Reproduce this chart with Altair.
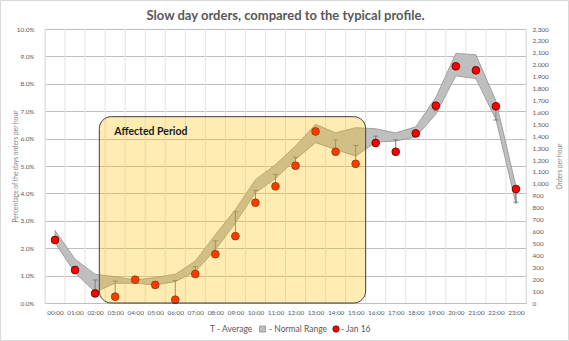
import json
import altair as alt
import pandas as pd

# ---------------- data ----------------
hours = ["00:00", "01:00", "02:00", "03:00", "04:00", "05:00", "06:00", "07:00",
         "08:00", "09:00", "10:00", "11:00", "12:00", "13:00", "14:00", "15:00",
         "16:00", "17:00", "18:00", "19:00", "20:00", "21:00", "22:00", "23:00"]
jan16 = [2.30, 1.20, 0.35, 0.23, 0.85, 0.66, 0.12, 1.06, 1.78, 2.44, 3.66, 4.26,
         5.01, 6.26, 5.52, 5.08, 5.84, 5.52, 6.19, 7.20, 8.64, 8.49, 7.18, 4.16]
average = [2.42, 1.33, 0.84, 0.80, 0.78, 0.78, 0.82, 1.33, 2.27, 3.33, 4.11, 4.69,
           5.32, 6.20, 5.95, 5.75, 6.09, 5.96, 6.25, 7.02, 8.70, 8.62, 6.68, 3.68]
upper = [2.65, 1.60, 1.05, 0.96, 0.84, 0.93, 1.05, 1.53, 2.49, 3.41, 4.50, 5.05,
         5.73, 6.52, 6.21, 6.40, 6.36, 6.21, 6.43, 7.50, 9.11, 9.06, 7.37, 4.25]
lower = [2.20, 1.10, 0.40, 0.72, 0.72, 0.66, 0.78, 1.15, 1.94, 2.92, 4.02, 4.54,
         5.24, 5.85, 5.60, 5.36, 5.87, 5.91, 6.06, 6.89, 8.29, 8.19, 6.70, 3.62]
pct_ticks = [0, 1, 2, 3, 4, 5, 6, 7, 8, 9, 10]
order_ticks = list(range(0, 2301, 100))

title_text = "Slow day orders, compared to the typical profile."

# annotation (affected period box, in data units)
period_start, period_end, period_top = 2.21, 15.5, 6.80
label_x, label_y = 2.96, 6.23

FONT = "Lato"
W, H = 481, 274
PAD = {"left": 45, "top": 29, "right": 43, "bottom": 38}
LBL = 6.4

df = pd.DataFrame({"h": list(range(len(hours))), "hour": hours, "jan16": jan16,
                   "avg": average, "upper": upper, "lower": lower})
bounds = pd.DataFrame({"b": [i - 0.5 for i in range(len(hours) + 1)]})

xscale = alt.Scale(domain=[-0.5, len(hours) - 0.5], nice=False, zero=False)
yscale = alt.Scale(domain=[0, 10], nice=False)

xaxis = alt.Axis(values=list(range(len(hours))),
                 labelExpr=json.dumps(hours) + "[datum.value]",
                 grid=False, ticks=False, tickSize=0, domain=True,
                 domainColor="#BFBFBF", title=None, labelFont=FONT,
                 labelFontSize=LBL, labelColor="#595959", labelPadding=6)
yaxis = alt.Axis(values=pct_ticks, labelExpr="format(datum.value/100, '.1%')",
                 grid=True, gridColor="#BFBFBF", gridWidth=1, ticks=False,
                 tickSize=0, domain=False, title="Percentage of the days orders per hour",
                 titleFont=FONT, titleFontSize=6.6, titleFontWeight="normal",
                 titleColor="#7F7F7F", titlePadding=-2, labelFont=FONT,
                 labelFontSize=LBL, labelColor="#595959", labelPadding=11)

X = alt.X("h:Q", scale=xscale, axis=xaxis)
base = alt.Chart(df)

vgrid = alt.Chart(bounds).mark_rule(color="#E3E3E3", strokeWidth=1).encode(
    x=alt.X("b:Q", scale=xscale, axis=xaxis), y=alt.value(0), y2=alt.value(H))

band = base.mark_area(fill="#BFBFBF", stroke="#8C8C8C", strokeWidth=0.75,
                      opacity=1).encode(
    x=X, y=alt.Y("upper:Q", scale=yscale, axis=yaxis), y2="lower:Q")

err = base.mark_rule(color="#7F7F7F", strokeWidth=1).encode(
    x=X, y=alt.Y("jan16:Q", scale=yscale, axis=yaxis), y2="avg:Q")
cap = base.mark_rule(color="#7F7F7F", strokeWidth=1, xOffset=-2.5,
                     x2Offset=2.5).encode(
    x=X, x2="h:Q", y=alt.Y("avg:Q", scale=yscale, axis=yaxis))

pts = base.mark_circle(size=60, color="#FF0000", stroke="#5A0000",
                       strokeWidth=0.8, opacity=1).encode(
    x=X, y=alt.Y("jan16:Q", scale=yscale, axis=yaxis))

ann = pd.DataFrame({"x0": [period_start], "x1": [period_end], "y0": [0],
                    "y1": [period_top], "tx": [label_x], "ty": [label_y],
                    "label": ["Affected Period"]})
box = alt.Chart(ann).mark_rect(fill="#FFC000", fillOpacity=0.3, stroke="#404040",
                               strokeWidth=1, cornerRadius=12).encode(
    x=alt.X("x0:Q", scale=xscale, axis=xaxis), x2="x1:Q",
    y=alt.Y("y0:Q", scale=yscale, axis=yaxis), y2="y1:Q")
box_label = alt.Chart(ann).mark_text(align="left", baseline="middle", font=FONT,
                                     fontSize=10.5, fontWeight="bold",
                                     color="#1A1A1A").encode(
    x=alt.X("tx:Q", scale=xscale, axis=xaxis),
    y=alt.Y("ty:Q", scale=yscale, axis=yaxis), text="label:N")

# title, legend and border (drawn manually, pixels relative to plot area)
one = pd.DataFrame({"a": [0]})
title = alt.Chart(one).mark_text(align="center", baseline="middle", font=FONT,
                                 fontSize=13, fontWeight="bold", color="#595959",
                                 text=title_text).encode(
    x=alt.value(W / 2), y=alt.value(-13))
leg_y = 300
leg_avg = alt.Chart(one).mark_text(align="left", baseline="middle", font=FONT,
                                   fontSize=8.5, color="#595959",
                                   text="T - Average").encode(
    x=alt.value(165), y=alt.value(leg_y))
leg_sq = alt.Chart(one).mark_square(size=36, fill="#BFBFBF", stroke="#8C8C8C",
                                    strokeWidth=0.75, opacity=1).encode(
    x=alt.value(217.5), y=alt.value(leg_y))
leg_range = alt.Chart(one).mark_text(align="left", baseline="middle", font=FONT,
                                     fontSize=8.5, color="#595959",
                                     text="- Normal Range").encode(
    x=alt.value(224), y=alt.value(leg_y))
leg_dot = alt.Chart(one).mark_circle(size=40, color="#FF0000", stroke="#5A0000",
                                     strokeWidth=0.8, opacity=1).encode(
    x=alt.value(291), y=alt.value(leg_y))
leg_jan = alt.Chart(one).mark_text(align="left", baseline="middle", font=FONT,
                                   fontSize=8.5, color="#595959",
                                   text="- Jan 16").encode(
    x=alt.value(296), y=alt.value(leg_y))
border = alt.Chart(one).mark_rect(fill=None, stroke="#D9D9D9",
                                  strokeWidth=1).encode(
    x=alt.value(-PAD["left"] + 0.5), x2=alt.value(W + PAD["right"] - 0.5),
    y=alt.value(-PAD["top"] + 0.5), y2=alt.value(H + PAD["bottom"] - 0.5))

left = alt.layer(vgrid, band, err, cap, pts, box, box_label, title, leg_avg,
                 leg_sq, leg_range, leg_dot, leg_jan, border)

right = alt.Chart(pd.DataFrame({"o": [order_ticks[0], order_ticks[-1]]})).mark_point(
    opacity=0).encode(
    y=alt.Y("o:Q", scale=alt.Scale(domain=[order_ticks[0], order_ticks[-1]], nice=False),
            axis=alt.Axis(orient="right", values=order_ticks, format=",.0f",
                          grid=False, ticks=False, tickSize=0, domain=False,
                          title="Orders per hour", titleFont=FONT,
                          titleFontSize=6.6, titleFontWeight="normal",
                          titleColor="#7F7F7F", titlePadding=14, titleAngle=270,
                          labelFont=FONT, labelFontSize=LBL,
                          labelColor="#595959", labelPadding=6)))

chart = alt.layer(left, right).resolve_scale(y="independent").properties(
    width=W, height=H,
    autosize=alt.AutoSizeParams(type="none"),
    padding=PAD,
).configure_view(stroke=None).configure(background="white")

chart.save("out.html", embed_options={"renderer": "svg", "actions": False})
